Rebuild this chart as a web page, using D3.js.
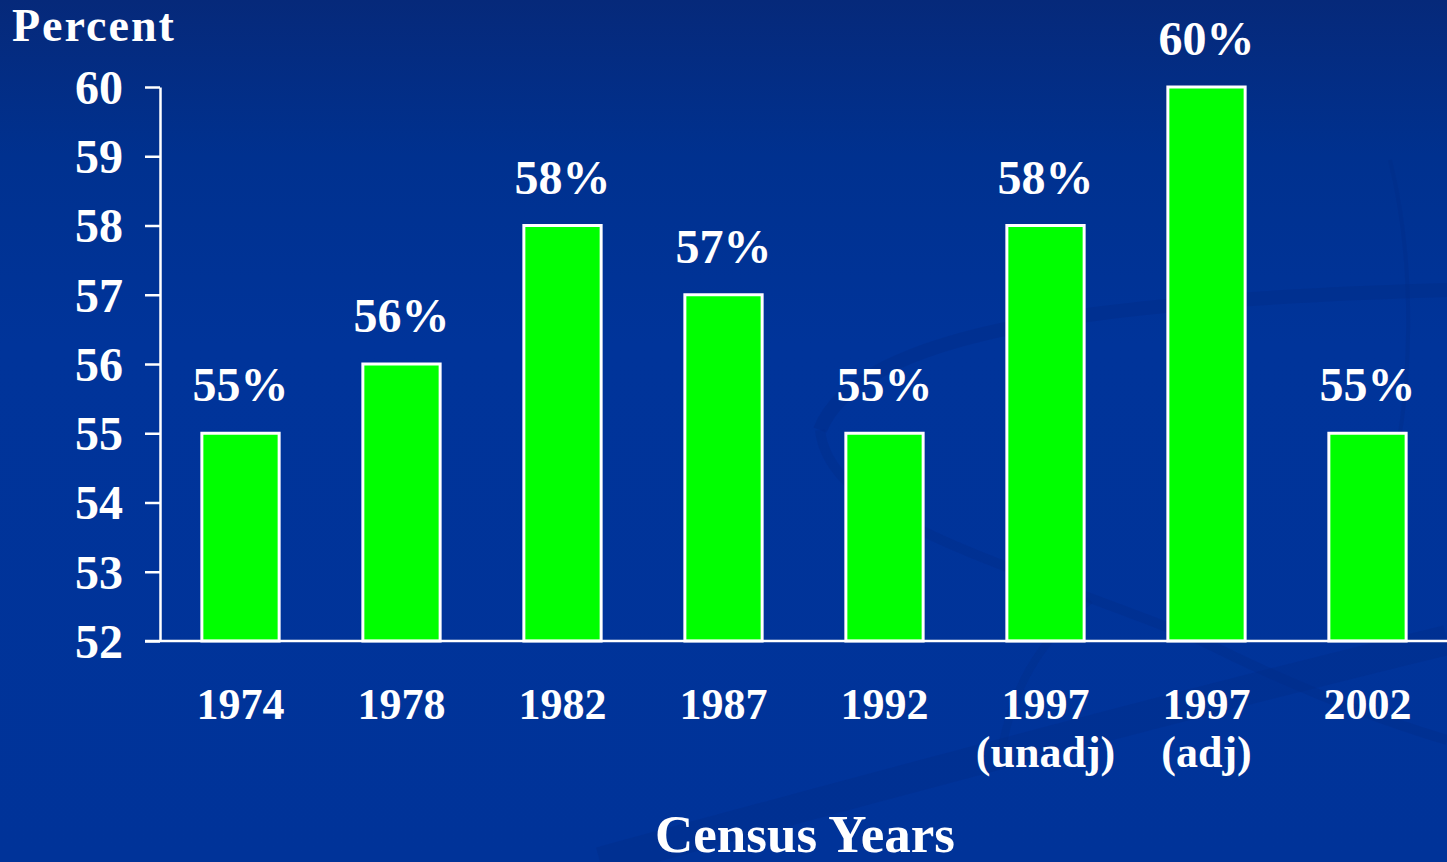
<!DOCTYPE html>
<html>
<head>
<meta charset="utf-8">
<script src="https://cdn.jsdelivr.net/npm/d3@7"></script>
<style>
html,body{margin:0;padding:0;overflow:hidden;}
svg{display:block;}
text{font-family:"Liberation Serif","Times New Roman",serif;font-weight:bold;fill:#fff;}
</style>
</head>
<body>
<svg id="chart" width="1447" height="862"></svg>
<script>
const categories = ["1974","1978","1982","1987","1992","1997\n(unadj)","1997\n(adj)","2002"];
const values = [55,56,58,57,55,58,60,55];
const valueLabels = ["55%","56%","58%","57%","55%","58%","60%","55%"];
const yTicks = [52,53,54,55,56,57,58,59,60];

const W = 1447, H = 862;
const svg = d3.select("#chart");
const defs = svg.append("defs");
const grad = defs.append("linearGradient").attr("id","bg").attr("x1",0).attr("y1",0).attr("x2",0).attr("y2",1);
grad.append("stop").attr("offset","0%").attr("stop-color","#06297a");
grad.append("stop").attr("offset","18%").attr("stop-color","#00318f");
grad.append("stop").attr("offset","40%").attr("stop-color","#00349a");
grad.append("stop").attr("offset","100%").attr("stop-color","#003399");
svg.append("rect").attr("width",W).attr("height",H).attr("fill","url(#bg)");

// faint decorative swirls
const sw = svg.append("g").attr("fill","none").attr("stroke","#012a85");
sw.append("path").attr("d","M820,430 C860,330 1100,300 1447,290").attr("stroke-width",14).attr("opacity",0.35);
sw.append("path").attr("d","M820,430 C830,520 1000,560 1200,640 C1300,690 1380,720 1447,740").attr("stroke-width",10).attr("opacity",0.3);
sw.append("path").attr("d","M1390,160 C1415,260 1415,400 1385,500").attr("stroke-width",4).attr("opacity",0.3);
sw.append("path").attr("d","M600,862 C900,780 1200,700 1447,640").attr("stroke-width",30).attr("opacity",0.3);
sw.append("path").attr("d","M1000,760 C1010,690 1040,640 1090,600").attr("stroke-width",8).attr("opacity",0.25);

const x = d3.scaleBand().domain(categories).range([160,1448]).paddingInner(0.52).paddingOuter(0.26);
const y = d3.scaleLinear().domain([52,60]).range([641,87]);

// y axis
const yAxis = d3.axisLeft(y).tickValues(yTicks).tickSize(15).tickPadding(22).tickSizeOuter(0);
const ga = svg.append("g").attr("transform","translate(160,0)").call(yAxis);
ga.select(".domain").attr("stroke","#fff").attr("stroke-width",2.5);
ga.selectAll(".tick line").attr("stroke","#fff").attr("stroke-width",2.5);
ga.selectAll(".tick text").attr("font-size",48).attr("font-family","Liberation Serif, serif").attr("font-weight","bold").attr("fill","#fff").attr("dy","0.34em");

// bars
svg.append("g").selectAll("rect").data(values).join("rect")
  .attr("x",(d,i)=>x(categories[i]))
  .attr("y",d=>y(d))
  .attr("width",x.bandwidth())
  .attr("height",d=>y(52)-y(d))
  .attr("fill","#00ff00").attr("stroke","#fff").attr("stroke-width",3);

// baseline
svg.append("line").attr("x1",145).attr("x2",1447).attr("y1",y(52)).attr("y2",y(52)).attr("stroke","#fff").attr("stroke-width",2.5);

// value labels
svg.append("g").selectAll("text").data(values).join("text")
  .attr("x",(d,i)=>x(categories[i])+x.bandwidth()/2)
  .attr("y",d=>y(d)-32)
  .attr("text-anchor","middle").attr("font-size",48)
  .text((d,i)=>valueLabels[i]);

// category labels
const cg = svg.append("g").selectAll("text").data(categories).join("text")
  .attr("x",d=>x(d)+x.bandwidth()/2)
  .attr("y",719)
  .attr("text-anchor","middle").attr("font-size",44);
cg.each(function(d){
  const lines = d.split("\n");
  const t = d3.select(this);
  lines.forEach((l,i)=>{
    t.append("tspan").attr("x",x(d)+x.bandwidth()/2).attr("dy",i===0?0:48).text(l);
  });
});

// axis titles
svg.append("text").attr("x",12).attr("y",41).attr("font-size",46).attr("letter-spacing",2).text("Percent");
svg.append("text").attr("x",805).attr("y",852).attr("text-anchor","middle").attr("font-size",53).text("Census Years");
</script>
</body>
</html>
